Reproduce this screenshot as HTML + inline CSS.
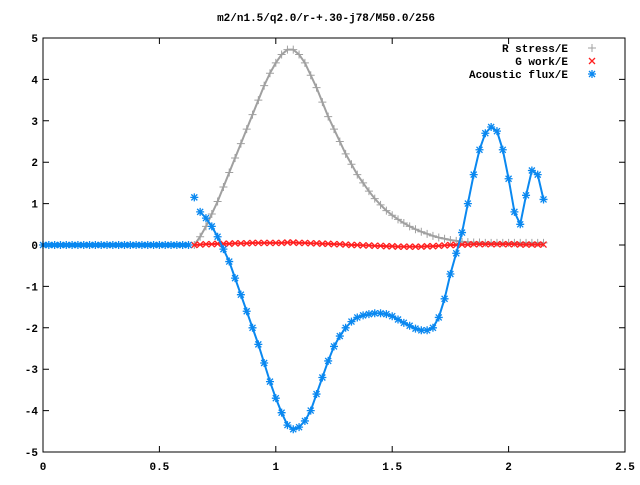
<!DOCTYPE html>
<html><head><meta charset="utf-8"><style>
body{margin:0;background:#fff}
svg text{font-family:"Liberation Mono",monospace;font-size:11px;font-weight:bold;fill:#000}
</style></head><body>
<svg id="chart" width="640" height="480" xmlns="http://www.w3.org/2000/svg">
<rect width="640" height="480" fill="#fff"/>
<text x="326" y="21" text-anchor="middle">m2/n1.5/q2.0/r-+.30-j78/M50.0/256</text>
<g id="axes"></g><g id="series"></g>
<rect x="43" y="38" width="582" height="414" fill="none" stroke="#000" stroke-width="1"/>
<g>
<text x="568" y="52" text-anchor="end">R stress/E</text>
<text x="568" y="65" text-anchor="end">G work/E</text>
<text x="568" y="78" text-anchor="end">Acoustic flux/E</text>
<g id="legmarks"></g>
</g>
</svg>
<script>
const xTicks=[0,0.5,1,1.5,2,2.5];
const xTickLabels=["0","0.5","1","1.5","2","2.5"];
const yTicks=[-5,-4,-3,-2,-1,0,1,2,3,4,5];
const rX0=0.65, rDx=0.025;
const rStress=[0,0.2,0.45,0.75,1.05,1.4,1.75,2.1,2.45,2.8,3.15,3.5,3.85,4.15,4.4,4.6,4.72,4.72,4.6,4.4,4.1,3.8,3.45,3.1,2.8,2.5,2.2,1.95,1.7,1.5,1.3,1.12,0.97,0.83,0.72,0.62,0.53,0.45,0.38,0.32,0.27,0.22,0.18,0.15,0.12,0.1,0.08,0.07,0.06,0.06,0.05,0.05,0.05,0.05,0.05,0.05,0.05,0.05,0.05,0.05,0.05];
const gWork=[0,0.01,0.02,0.02,0.03,0.03,0.03,0.04,0.04,0.04,0.05,0.05,0.05,0.05,0.05,0.05,0.06,0.06,0.05,0.05,0.04,0.04,0.03,0.03,0.02,0.02,0.01,0,0,-0.01,-0.01,-0.02,-0.02,-0.03,-0.03,-0.04,-0.04,-0.04,-0.04,-0.04,-0.03,-0.03,-0.02,-0.01,0,0,0.01,0.01,0.02,0.02,0.02,0.02,0.02,0.02,0.02,0.02,0.01,0.01,0.01,0.01,0.01];
const aX0=0, aDx=0.025;
const acoustic=[0,0,0,0,0,0,0,0,0,0,0,0,0,0,0,0,0,0,0,0,0,0,0,0,0,0,
1.15,0.8,0.65,0.45,0.2,-0.1,-0.4,-0.8,-1.2,-1.6,-2.0,-2.4,-2.85,-3.3,-3.7,-4.05,-4.35,-4.45,
-4.4,-4.25,-4.0,-3.6,-3.2,-2.8,-2.45,-2.2,-2.0,-1.85,-1.75,-1.7,-1.67,-1.65,-1.65,-1.67,-1.72,-1.8,-1.88,-1.95,-2.02,-2.06,-2.06,-2.0,-1.75,-1.3,-0.7,-0.2,0.3,1.0,1.7,2.3,2.7,2.85,2.75,2.3,1.6,0.8,0.5,1.2,1.8,1.7,1.1];
const NS="http://www.w3.org/2000/svg";
const X=v=>43+v*232.8, Y=v=>245-v*41.4;
function mk(tag,attrs,parent){const e=document.createElementNS(NS,tag);for(const k in attrs)e.setAttribute(k,attrs[k]);parent.appendChild(e);return e;}
const axes=document.getElementById('axes'), ser=document.getElementById('series');
xTicks.forEach((t,i)=>{
  const g=mk('g',{},axes);
  
  
  mk('path',{d:`M${X(t)} 452v-6M${X(t)} 38v6`,stroke:'#000'},g);
  const tx=mk('text',{x:X(t),y:470,'text-anchor':'middle'},g);tx.textContent=xTickLabels[i];
});
yTicks.forEach(t=>{
  const g=mk('g',{},axes);
  
  
  mk('path',{d:`M43 ${Y(t)}h6M625 ${Y(t)}h-6`,stroke:'#000'},g);
  const tx=mk('text',{x:38,y:Y(t)+4,'text-anchor':'end'},g);tx.textContent=String(t);
});
function plus(g,x,y,c){mk('path',{d:`M${x-4} ${y}h8M${x} ${y-4}v8`,stroke:c,'stroke-width':1},g);}
function cross(g,x,y,c){mk('path',{d:`M${x-3} ${y-3}l6 6M${x-3} ${y+3}l6 -6`,stroke:c,'stroke-width':1.3},g);}
function star(g,x,y,c){mk('path',{d:`M${x-4} ${y}h8M${x} ${y-4}v8M${x-3} ${y-3}l6 6M${x-3} ${y+3}l6 -6`,stroke:c,'stroke-width':1.3},g);}
function series(name,vals,x0,dx,c,fn,skipLineBefore){
  const g=mk('g',{},ser);
  
  
  let pts=vals.map((v,i)=>[X(x0+i*dx),Y(v)]);
  const lp=skipLineBefore?pts.slice(skipLineBefore+1):pts;
  mk('polyline',{points:lp.map(p=>p.join(',')).join(' '),fill:'none',stroke:c,'stroke-width':2},g);
  if(skipLineBefore){mk('polyline',{points:pts.slice(0,skipLineBefore).map(p=>p.join(',')).join(' '),fill:'none',stroke:c,'stroke-width':4},g);}
  pts.forEach(p=>fn(g,p[0],p[1],c));
}
series('r-stress-series',rStress,rX0,rDx,'#a0a0a0',plus);
series('g-work-series',gWork,rX0,rDx,'#ff2020',cross);
series('acoustic-flux-series',acoustic,aX0,aDx,'#0a88f0',star,26);
const lm=document.getElementById('legmarks');
plus(lm,592,48,'#a0a0a0');cross(lm,592,61,'#ff2020');star(lm,592,74,'#0a88f0');
</script>
</body></html>
